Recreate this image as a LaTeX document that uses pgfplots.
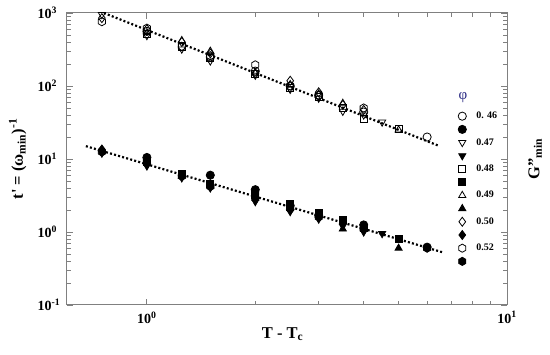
\documentclass[border=0pt]{standalone}
\usepackage{fontspec}
\setmainfont{Liberation Serif}
\usepackage{pgfplots}
\pgfplotsset{compat=1.18}
\definecolor{phiblue}{RGB}{40,40,130}
\makeatletter
\pgfdeclareplotmark{hexagon}{%
  \pgfpathmoveto{\pgfqpointpolar{90}{\pgfplotmarksize}}%
  \pgfpathlineto{\pgfqpointpolar{150}{\pgfplotmarksize}}%
  \pgfpathlineto{\pgfqpointpolar{210}{\pgfplotmarksize}}%
  \pgfpathlineto{\pgfqpointpolar{270}{\pgfplotmarksize}}%
  \pgfpathlineto{\pgfqpointpolar{330}{\pgfplotmarksize}}%
  \pgfpathlineto{\pgfqpointpolar{30}{\pgfplotmarksize}}%
  \pgfpathclose\pgfusepathqstroke}
\pgfdeclareplotmark{hexagon*}{%
  \pgfpathmoveto{\pgfqpointpolar{90}{\pgfplotmarksize}}%
  \pgfpathlineto{\pgfqpointpolar{150}{\pgfplotmarksize}}%
  \pgfpathlineto{\pgfqpointpolar{210}{\pgfplotmarksize}}%
  \pgfpathlineto{\pgfqpointpolar{270}{\pgfplotmarksize}}%
  \pgfpathlineto{\pgfqpointpolar{330}{\pgfplotmarksize}}%
  \pgfpathlineto{\pgfqpointpolar{30}{\pgfplotmarksize}}%
  \pgfpathclose\pgfusepathqfillstroke}
\makeatother
\begin{document}
\begin{tikzpicture}
\path[use as bounding box] (0,0) rectangle (550pt,355pt);
\begin{axis}[
  at={(67pt,50pt)}, anchor=south west,
  scale only axis, width=440pt, height=292pt,
  clip=false,
  xmode=log, ymode=log,
  xmin=0.6, xmax=10, ymin=0.1, ymax=1000,
  xtick={1,10}, xticklabels={10\textsuperscript{0},10\textsuperscript{1}},
  ytick={0.1,1,10,100,1000},
  yticklabels={10\textsuperscript{-1},10\textsuperscript{0},10\textsuperscript{1},10\textsuperscript{2},10\textsuperscript{3}},
  ticklabel style={font=\bfseries\fontsize{14}{15}\selectfont},
  yticklabel style={anchor=west, xshift=-33pt},
  xticklabel style={yshift=-3pt},
  axis line style={draw=gray, line width=1pt},
  every tick/.style={gray, line width=0.8pt},
  major tick length=6pt, minor tick length=4pt,
  xlabel={\textbf{T - T\textsubscript{c}}},
  xlabel style={at={(axis description cs:0.49,-0.1)}, anchor=center, font=\fontsize{16.5}{18}\selectfont},
  legend columns=1,
  legend cell align=left,
  legend image code/.code={\draw[#1] plot coordinates {(0pt,0pt)};},
  legend style={draw=none, fill=none, inner sep=0pt, column sep=10pt, row sep=4.2pt,
    at={(axis description cs:0.8886,0.6627)}, anchor=north west,
    font=\bfseries\fontsize{10}{12}\selectfont,
    nodes={inner sep=0pt, text height=7pt, text depth=2pt}},
  mark size=4.1pt,
  every axis plot/.append style={black, line width=0.8pt},
]
\addplot[forget plot, black, line width=2.2pt, dash pattern=on 2pt off 2.2pt] coordinates {(0.76,1000) (6.5,15)};
\addplot[forget plot, black, line width=2.2pt, dash pattern=on 2pt off 2.2pt] coordinates {(0.677,15) (6.6,0.53)};
% 0.46
\addplot[only marks, mark=o] coordinates {(1,560) (1.5,250) (2,160) (2.5,100) (3,75) (4,44) (6,20)};
\addlegendentry{0. 46}
\addplot[only marks, mark=*, fill=black] coordinates {(1,10.5) (1.5,6) (2,3.8) (2.5,2.3) (3,1.7) (4,1.25) (6,0.62)};
\addlegendentry{}
% 0.47
\addplot[only marks, mark=triangle, mark options={rotate=180}] coordinates {(0.75,950) (1,490) (1.25,320) (1.5,220) (2,140) (2.5,90) (3,68) (3.5,45) (4,40) (4.5,32)};
\addlegendentry{0.47}
\addplot[only marks, mark=triangle*, fill=black, mark options={rotate=180}] coordinates {(0.75,12) (1,8) (1.25,5.5) (1.5,4) (2,2.6) (2.5,1.9) (3,1.5) (3.5,1.2) (4,1.0) (4.5,0.95)};
\addlegendentry{}
% 0.48
\addplot[only marks, mark=square, mark size=3.5pt] coordinates {(1,520) (1.25,340) (1.5,240) (2,145) (2.5,95) (3,72) (3.5,50) (4,35) (5,26)};
\addlegendentry{0.48}
\addplot[only marks, mark=square*, fill=black, mark size=3.5pt] coordinates {(1,9) (1.25,6.2) (1.5,4.6) (2,3.2) (2.5,2.4) (3,1.85) (3.5,1.45) (4,1.15) (5,0.8)};
\addlegendentry{}
% 0.49
\addplot[only marks, mark=triangle] coordinates {(1,540) (1.25,420) (1.5,300) (2,150) (2.5,105) (3,78) (3.5,58) (5,25)};
\addlegendentry{0.49}
\addplot[only marks, mark=triangle*, fill=black] coordinates {(1,9.5) (1.25,5.8) (1.5,4.3) (2,2.9) (2.5,2.2) (3,1.7) (3.5,1.1) (5,0.6)};
\addlegendentry{}
% 0.50
\addplot[only marks, mark=diamond, mark size=4.5pt] coordinates {(0.75,850) (1,600) (1.25,400) (1.5,280) (2,150) (2.5,118) (3,82) (3.5,55) (4,47)};
\addlegendentry{0.50}
\addplot[only marks, mark=diamond*, fill=black, mark size=4.5pt] coordinates {(0.75,13.5) (1,8.5) (1.25,6) (1.5,4.5) (2,3.0) (2.5,2.0) (3,1.6) (3.5,1.3) (4,1.1)};
\addlegendentry{}
% 0.52
\addplot[only marks, mark=hexagon] coordinates {(0.75,760) (1,620) (1.25,350) (1.5,260) (2,195) (2.5,100) (3,74) (4,50)};
\addlegendentry{0.52}
\addplot[only marks, mark=hexagon*, fill=black] coordinates {(0.75,12.5) (1,9.5) (1.25,5.8) (1.5,4.2) (2,3.4) (2.5,2.1) (3,1.6) (4,1.1) (6,0.6)};
\addlegendentry{}
\node[text=phiblue, font=\fontsize{15}{16}\selectfont] at (axis cs:7.55,70) {φ};
\node[rotate=90, anchor=center, font=\bfseries\fontsize{16.5}{18}\selectfont] at (axis description cs:-0.112,0.5) {t\textquotesingle\ = (ω\textsubscript{min})\textsuperscript{-1}};
\node[rotate=90, anchor=center, font=\bfseries\fontsize{16.5}{18}\selectfont] at (axis description cs:1.064,0.5) {G"\textsubscript{min}};
\end{axis}
\end{tikzpicture}
\end{document}
